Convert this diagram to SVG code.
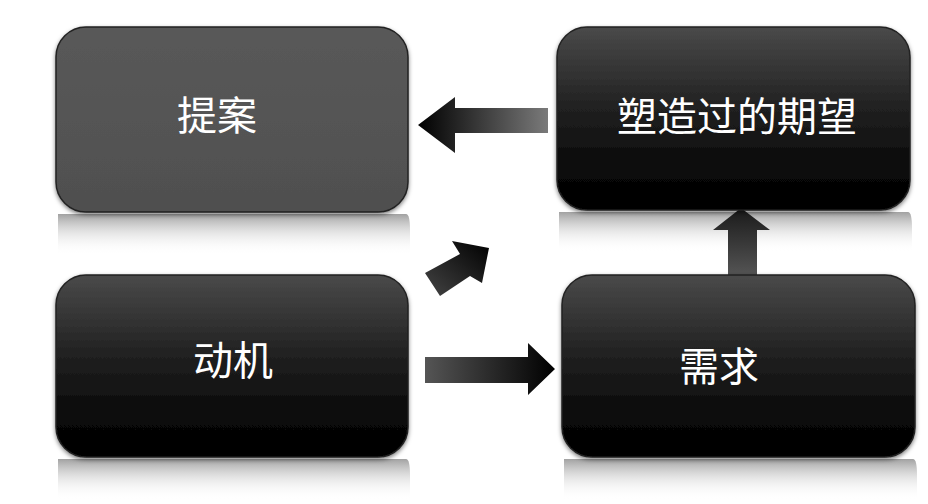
<svg xmlns="http://www.w3.org/2000/svg" width="928" height="504" viewBox="0 0 928 504">
<style>
  .lbl { font-family: "Noto Sans CJK SC", "Noto Sans", sans-serif; font-size: 40px; fill: #ffffff; text-anchor: middle; }
  .box { stroke: #222; stroke-width: 1.5; }
</style>
<defs>
  <linearGradient id="gDark" x1="0" y1="0" x2="0" y2="1">
    <stop offset="0" stop-color="#4a4a4a"/>
    <stop offset="0.45" stop-color="#202020"/>
    <stop offset="0.8" stop-color="#080808"/>
    <stop offset="1" stop-color="#000"/>
  </linearGradient>
  <linearGradient id="gGray" x1="0" y1="0" x2="0" y2="1">
    <stop offset="0" stop-color="#595959"/>
    <stop offset="1" stop-color="#4f4f4f"/>
  </linearGradient>
  <linearGradient id="gRefl" x1="0" y1="0" x2="0" y2="1">
    <stop offset="0" stop-color="#8a8a8a" stop-opacity="0.8"/>
    <stop offset="0.45" stop-color="#c4c4c4" stop-opacity="0.45"/>
    <stop offset="1" stop-color="#fff" stop-opacity="0"/>
  </linearGradient>
  <linearGradient id="gLeft" x1="0" y1="0" x2="1" y2="0">
    <stop offset="0" stop-color="#000"/>
    <stop offset="1" stop-color="#7a7a7a"/>
  </linearGradient>
  <linearGradient id="gRight" x1="0" y1="0" x2="1" y2="0">
    <stop offset="0" stop-color="#555"/>
    <stop offset="1" stop-color="#000"/>
  </linearGradient>
  <linearGradient id="gDiag" x1="0" y1="1" x2="1" y2="0">
    <stop offset="0" stop-color="#444"/>
    <stop offset="1" stop-color="#000"/>
  </linearGradient>
  <linearGradient id="gUp" x1="0" y1="1" x2="0" y2="0">
    <stop offset="0" stop-color="#555"/>
    <stop offset="1" stop-color="#1a1a1a"/>
  </linearGradient>
  <filter id="sh" x="-10%" y="-10%" width="120%" height="130%">
    <feDropShadow dx="0" dy="2" stdDeviation="2" flood-color="#000" flood-opacity="0.5"/>
  </filter>
</defs>

<g id="reflections">
  <path d="M58,214 H406 Q410,214 410,230 V255 H58 Z" fill="url(#gRefl)"/>
  <path d="M559,212 H908 Q912,212 912,228 V252 H559 Z" fill="url(#gRefl)"/>
  <path d="M58,459 H406 Q410,459 410,475 V500 H58 Z" fill="url(#gRefl)"/>
  <path d="M564,459 H913 Q917,459 917,475 V500 H564 Z" fill="url(#gRefl)"/>
</g>

<g id="connectors">
  <path d="M548,108 H455 V97 L418,125 L455,153 V133 H548 Z" fill="url(#gLeft)"/>
  <path d="M425,273 L440,296 L470,276 L482,283 L489,248 L452,241 L460,254 Z" fill="url(#gDiag)"/>
  <path d="M425,357 H528 V343 L555,369 L528,395 V383 H425 Z" fill="url(#gRight)"/>
  <path d="M728,276 V230 H713 L741,208 L770,230 H757 V276 Z" fill="url(#gUp)"/>
</g>

<g id="node-proposal">
  <rect class="box" x="56" y="27" width="352" height="185" rx="30" fill="url(#gGray)" filter="url(#sh)"/>
  <text class="lbl" x="217" y="130">提案</text>
</g>

<g id="node-expectation">
  <rect class="box" x="557" y="27" width="353" height="183" rx="30" fill="url(#gDark)" filter="url(#sh)"/>
  <text class="lbl" x="737" y="131">塑造过的期望</text>
</g>

<g id="node-motivation">
  <rect class="box" x="56" y="275" width="352" height="182" rx="30" fill="url(#gDark)" filter="url(#sh)"/>
  <text class="lbl" x="233" y="375">动机</text>
</g>

<g id="node-need">
  <rect class="box" x="562" y="275" width="353" height="182" rx="30" fill="url(#gDark)" filter="url(#sh)"/>
  <text class="lbl" x="719" y="381">需求</text>
</g>
</svg>
